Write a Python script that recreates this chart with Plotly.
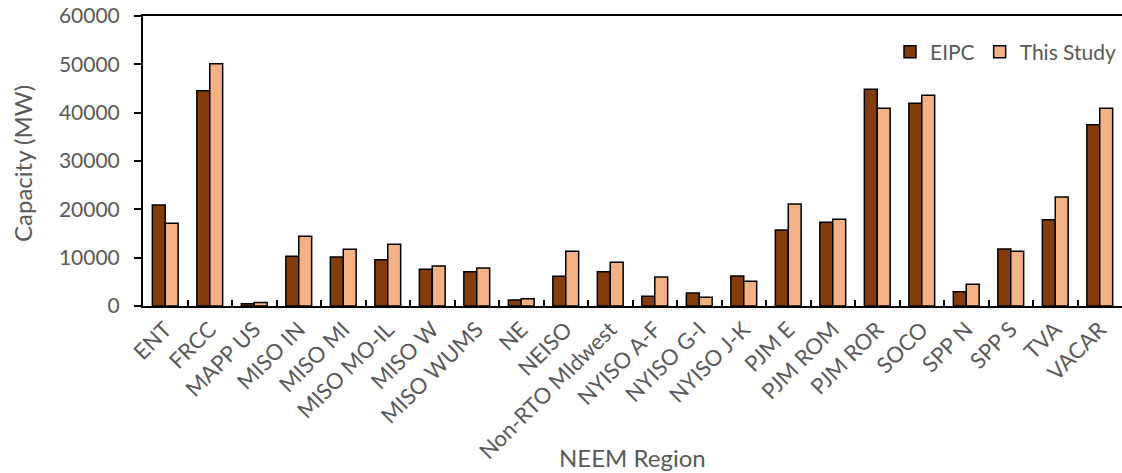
import plotly.graph_objects as go

regions = ["ENT", "FRCC", "MAPP US", "MISO IN", "MISO MI", "MISO MO-IL", "MISO W",
           "MISO WUMS", "NE", "NEISO", "Non-RTO MIdwest", "NYISO A-F", "NYISO G-I",
           "NYISO J-K", "PJM E", "PJM ROM", "PJM ROR", "SOCO", "SPP N", "SPP S",
           "TVA", "VACAR"]
eipc = [20900, 44550, 480, 10280, 10140, 9580, 7590, 7100, 1240, 6140, 7100, 2000,
        2690, 6210, 15720, 17310, 44830, 41930, 2960, 11790, 17860, 37520]
this_study = [17100, 50140, 700, 14410, 11720, 12760, 8280, 7860, 1520, 11310, 9030,
              6000, 1790, 5100, 21100, 17930, 40890, 43590, 4480, 11310, 22550, 40890]
y_ticks = [0, 10000, 20000, 30000, 40000, 50000, 60000]

FONT = "Lato"
GRAY = "#595959"

fig = go.Figure()
fig.add_trace(go.Bar(name="EIPC", x=regions, y=eipc, marker=dict(color="#843C0C",
                     line=dict(color="black", width=1.5))))
fig.add_trace(go.Bar(name="This Study", x=regions, y=this_study, marker=dict(color="#F4B183",
                     line=dict(color="black", width=1.5))))

fig.update_layout(
    width=1122, height=473,
    margin=dict(l=143, r=0, t=16, b=167),
    plot_bgcolor="white", paper_bgcolor="white",
    barmode="group", bargap=0.42, bargroupgap=0,
    font=dict(family=FONT, color=GRAY, size=20),
    legend=dict(orientation="h", x=1.0, xanchor="right", y=(306 - 52) / 290, yanchor="middle",
                font=dict(size=21, color=GRAY), itemwidth=30, traceorder="normal",
                bgcolor="rgba(0,0,0,0)"),
    showlegend=True,
)
fig.update_xaxes(
    type="category", showline=True, linecolor="black", linewidth=2, mirror=True,
    ticks="inside", tickson="boundaries", ticklen=6, tickcolor="black", tickwidth=2,
    tickangle=-45, tickfont=dict(size=22, color=GRAY), showgrid=False, automargin=False,
)
fig.update_yaxes(
    range=[0, 60000], tickvals=y_ticks, ticktext=[str(v) for v in y_ticks],
    showline=True, linecolor="black", linewidth=2, ticks="outside", ticklen=7,
    tickcolor="black", tickwidth=2, showgrid=False, zeroline=False,
    tickfont=dict(size=21, color=GRAY), ticklabelstandoff=10, automargin=False,
)
fig.add_annotation(text="Capacity (MW)", xref="paper", yref="paper", x=-(143 - 22) / 979,
                   y=(306 - 164) / 290, xanchor="center", yanchor="middle", textangle=-90,
                   showarrow=False, font=dict(size=24, color=GRAY))
fig.add_annotation(text="NEEM Region", xref="paper", yref="paper", x=(632 - 143) / 979,
                   y=-(457 - 306) / 290, xanchor="center", yanchor="middle",
                   showarrow=False, font=dict(size=24, color=GRAY))

fig.write_html("out.html")
